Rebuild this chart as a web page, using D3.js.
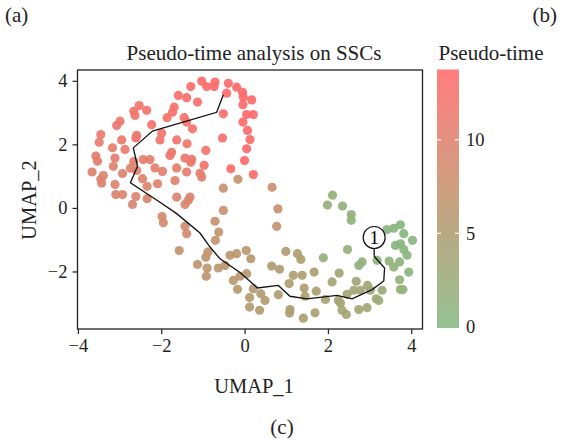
<!DOCTYPE html>
<html>
<head>
<meta charset="utf-8">
<script src="https://cdn.jsdelivr.net/npm/d3@7"></script>
<style>
  body { margin: 0; background: #fff; }
  svg { display: block; font-family: "Liberation Serif", serif; }
</style>
</head>
<body>
<svg id="chart" width="561" height="442"></svg>
<script>
// cells: UMAP coordinates and pseudo-time
const umap1 = [
  -1.03, -1.29, -0.91, -0.71, -0.73, -0.39, -0.19, -0.05, -0.43, -1.59,
  -1.39, -1.13, -0.03, 0.17, -0.04, -2.53, -2.66, -2.35, -1.69, -1.73,
  -2.63, -1.86, -1.45, -0.51, 0.05, 0.21, -2.99, -3.07, -2.23, -1.39,
  -1.25, -0.04, 0.07, -3.45, -3.49, -2.95, -2.59, -2.61, -1.99, -2.03,
  -1.63, -0.53, 0.13, -3.17, -2.87, -1.38, -1.75, -1.79, -0.93, 0.05,
  -3.57, -3.53, -3.11, -2.66, -2.43, -2.27, -1.43, -1.27, -1.29, 0.00,
  -3.15, -2.74, -2.59, -2.15, -1.97, -1.63, -0.97, -0.33, -3.66, -3.39,
  -2.93, -1.39, -1.07, 0.21, -3.45, -3.43, -3.11, -2.45, -2.34, -2.09,
  -1.67, -1.03, -0.16, -3.09, -2.93, -2.61, -2.34, -1.63, -1.31, -0.51,
  -2.69, -1.43, -1.35, -0.51, -1.98, -1.95, -1.43, -1.39, -0.71, -0.62,
  -0.70, -1.57, -0.88, -0.93, -1.13, -0.90, -0.92, -0.63, -0.47, -0.35,
  -0.19, 0.04, 0.15, -0.27, -0.11, 0.05, -0.17, 0.21, 0.12, 0.12,
  0.36, 0.39, 0.49, 0.66, 0.80, 0.77, 0.99, 1.27, 1.35, 0.65,
  0.84, 1.17, 1.38, 1.67, 2.27, 2.68, 2.95, 2.78, 2.62, 3.02,
  2.10, 1.07, 1.43, 0.81, 1.72, 2.46, 2.25, 2.30, 1.09, 1.08,
  1.45, 1.69, 1.41, 2.34, 2.44, 2.74, 2.94, 3.22, 3.30, 2.11,
  1.99, 2.35, 2.56, 2.56, 3.58, 3.74, 3.42, 3.82, 4.03, 3.62,
  3.74, 3.82, 3.90, 2.47, 1.89, 2.82, 2.74, 3.47, 3.72, 3.58,
  3.94, 3.72, 3.74, 3.80, 3.16, 3.18, 1.94
];
const umap2 = [
  3.99, 3.82, 3.82, 3.96, 3.82, 3.92, 3.80, 3.64, 3.61, 3.54,
  3.47, 3.33, 3.48, 3.40, 3.25, 3.22, 3.04, 3.07, 3.17, 3.01,
  2.91, 2.84, 2.84, 2.96, 2.94, 2.94, 2.73, 2.59, 2.62, 2.70,
  2.49, 2.70, 2.44, 2.31, 2.07, 2.14, 2.28, 2.20, 2.35, 2.14,
  2.14, 2.20, 2.15, 1.89, 1.84, 2.02, 1.75, 1.65, 1.81, 1.86,
  1.63, 1.47, 1.57, 1.46, 1.52, 1.52, 1.57, 1.53, 1.44, 1.49,
  1.31, 1.25, 1.18, 1.26, 1.15, 1.26, 1.34, 1.23, 1.13, 1.02,
  1.08, 1.13, 1.09, 1.05, 0.90, 0.78, 0.74, 0.92, 0.68, 0.76,
  0.86, 0.97, 0.90, 0.42, 0.42, 0.36, 0.29, 0.34, 0.34, 0.62,
  0.11, 0.11, 0.24, -0.08, -0.27, -0.47, -0.58, -0.81, -0.42, -0.76,
  -1.02, -1.34, -1.39, -1.55, -1.78, -1.89, -2.15, -1.89, -1.81, -1.49,
  -1.44, -1.34, -1.60, -2.28, -2.15, -2.07, -2.56, -2.54, -2.82, -3.12,
  -3.22, -2.70, -2.91, 0.65, -0.03, -0.58, -1.37, -1.44, -1.62, -1.83,
  -1.93, -2.12, -2.12, -2.02, -2.05, -2.31, -2.44, -2.59, -2.59, -2.59,
  -2.33, -2.38, -2.52, -2.73, -2.62, -2.72, -2.91, -2.99, -3.20, -3.31,
  -2.78, -3.30, -3.47, -3.22, -3.35, -3.20, -3.14, -2.91, -2.59, 0.40,
  0.09, 0.06, -0.21, -0.39, -0.64, -0.53, -0.68, -0.81, -1.02, -1.18,
  -1.13, -1.31, -1.49, -1.31, -1.57, -1.70, -1.81, -1.67, -1.70, -1.86,
  -2.02, -2.26, -2.57, -2.57, -2.86, -1.65, -2.88
];
const pseudotime = [
  13.0, 13.0, 13.2, 13.3, 13.2, 13.4, 13.5, 13.5, 13.3, 12.8,
  12.9, 13.0, 13.6, 13.6, 13.6, 12.2, 12.0, 12.2, 12.6, 12.5,
  12.0, 12.3, 12.6, 13.2, 13.6, 13.6, 11.5, 11.5, 12.0, 12.5,
  12.5, 13.5, 13.5, 11.0, 11.0, 11.3, 11.5, 11.5, 12.0, 11.8,
  12.0, 13.0, 13.5, 10.8, 11.0, 12.0, 11.5, 11.5, 12.5, 13.5,
  10.5, 10.5, 10.5, 10.5, 10.8, 10.8, 11.5, 11.5, 11.5, 13.6,
  10.0, 10.2, 10.0, 10.3, 10.3, 10.8, 12.3, 13.3, 9.8, 9.8,
  10.0, 10.8, 11.0, 13.6, 9.5, 9.5, 9.5, 9.8, 9.5, 9.8,
  10.0, 10.5, 7.0, 9.3, 9.3, 9.3, 9.2, 9.5, 9.5, 7.5,
  9.0, 9.2, 9.3, 7.5, 8.8, 8.8, 8.5, 8.5, 7.5, 7.0,
  7.0, 7.0, 7.0, 7.0, 6.8, 6.5, 6.3, 6.3, 6.3, 6.5,
  6.3, 6.0, 6.0, 6.0, 6.0, 5.8, 5.8, 5.5, 5.5, 5.5,
  5.3, 5.3, 5.3, 7.5, 7.3, 7.2, 5.0, 5.0, 5.0, 5.3,
  5.2, 5.0, 5.0, 4.8, 3.8, 3.5, 3.3, 3.5, 3.6, 3.2,
  4.0, 5.0, 4.8, 5.0, 4.6, 3.8, 4.0, 4.0, 4.8, 4.8,
  4.7, 4.5, 4.6, 4.0, 3.9, 3.6, 3.4, 3.0, 2.8, 1.8,
  1.8, 1.7, 1.6, 1.6, 0.5, 0.4, 0.6, 0.4, 0.3, 0.5,
  0.5, 0.6, 0.7, 1.5, 1.8, 1.3, 1.3, 1.2, 1.2, 1.5,
  1.0, 1.5, 1.5, 1.5, 2.8, 1.0, 4.4
];

// principal graph (trajectory) through the cells
const trajX = [-0.51, -0.67, -2.21, -2.67, -2.57, -2.74, -2.03, -1.63, -1.07, -0.83,
  -0.59, -0.11, 0.31, 0.81, 1.09, 1.50, 2.22, 2.58, 3.06, 3.34, 3.36, 3.11, 3.11];
const trajY = [3.56, 3.01, 2.42, 1.89, 1.31, 0.79, 0.18, -0.18, -0.79, -1.23,
  -1.60, -2.03, -2.52, -2.44, -2.78, -2.86, -2.75, -2.86, -2.57, -2.30, -1.89, -1.52, -1.28];
const rootNode = { x: 3.11, y: -0.93, label: "1" };

const xTicks = [-4, -2, 0, 2, 4];
const yTicks = [-2, 0, 2, 4];
const legendTicks = [0, 5, 10];
const colorStops = [0, 5, 10, 13.7];
const colorRange = ["#84b982", "#ae9e72", "#e0826f", "#ff6a6c"];

const svg = d3.select("#chart");
const box = { left: 77.5, right: 422.5, top: 70, bottom: 329 };

const x = d3.scaleLinear().domain([-4.01, 4.27]).range([box.left, box.right]);
const y = d3.scaleLinear().domain([-3.81, 4.34]).range([box.bottom, box.top]);
const color = d3.scaleLinear().domain(colorStops).range(colorRange).interpolate(d3.interpolateLab);

const cells = umap1.map((u, i) => ({ u1: u, u2: umap2[i], pt: pseudotime[i] }));

// points
svg.append("g")
  .selectAll("circle")
  .data(cells)
  .join("circle")
  .attr("cx", d => x(d.u1))
  .attr("cy", d => y(d.u2))
  .attr("r", 4.6)
  .attr("fill", d => color(d.pt))
  .attr("fill-opacity", 0.93);

// trajectory
const line = d3.line().x(d => x(d[0])).y(d => y(d[1]));
svg.append("path")
  .datum(trajX.map((v, i) => [v, trajY[i]]))
  .attr("d", line)
  .attr("fill", "none")
  .attr("stroke", "#111")
  .attr("stroke-width", 1.3);

const node = svg.append("g")
  .attr("transform", `translate(${x(rootNode.x)},${y(rootNode.y)})`);
node.append("circle").attr("r", 11).attr("fill", "#fff").attr("stroke", "#111").attr("stroke-width", 1.2);
node.append("text").attr("text-anchor", "middle").attr("dy", "0.35em")
  .attr("font-size", 19).text(rootNode.label);

// frame
svg.append("rect")
  .attr("x", box.left).attr("y", box.top)
  .attr("width", box.right - box.left).attr("height", box.bottom - box.top)
  .attr("fill", "none").attr("stroke", "#222").attr("stroke-width", 1.3);

// axes
const xAxis = svg.append("g")
  .attr("transform", `translate(0,${box.bottom})`)
  .call(d3.axisBottom(x).tickValues(xTicks).tickSize(5).tickPadding(5));
const yAxis = svg.append("g")
  .attr("transform", `translate(${box.left},0)`)
  .call(d3.axisLeft(y).tickValues(yTicks).tickSize(5).tickPadding(5));
[xAxis, yAxis].forEach(g => {
  g.select(".domain").remove();
  g.selectAll(".tick line").attr("stroke", "#222").attr("stroke-width", 1.2);
  g.selectAll(".tick text").attr("font-family", "Liberation Serif, serif")
    .attr("font-size", 18.5).attr("fill", "#222");
});

// titles
svg.append("text").attr("x", 254).attr("y", 60).attr("text-anchor", "middle")
  .attr("font-size", 21).attr("fill", "#222").text("Pseudo-time analysis on SSCs");
svg.append("text").attr("x", 254).attr("y", 393).attr("text-anchor", "middle")
  .attr("font-size", 20.5).attr("fill", "#222").text("UMAP_1");
svg.append("text").attr("transform", "translate(36,200) rotate(-90)").attr("text-anchor", "middle")
  .attr("font-size", 20.5).attr("fill", "#222").text("UMAP_2");

// panel letters
svg.append("text").attr("x", 5).attr("y", 22).attr("font-size", 21).attr("fill", "#222").text("(a)");
svg.append("text").attr("x", 557).attr("y", 22).attr("text-anchor", "end").attr("font-size", 21).attr("fill", "#222").text("(b)");
svg.append("text").attr("x", 282).attr("y", 434).attr("text-anchor", "middle").attr("font-size", 21).attr("fill", "#222").text("(c)");

// colour bar
const bar = { x: 437, w: 22, top: 69.5, bottom: 328 };
const cbar = d3.scaleLinear().domain([0, 13.75]).range([327, bar.top]);
const grad = svg.append("defs").append("linearGradient")
  .attr("id", "ptgrad").attr("x1", 0).attr("y1", 1).attr("x2", 0).attr("y2", 0);
d3.range(0, 13.76, 0.5).forEach(v => {
  grad.append("stop").attr("offset", v / 13.75).attr("stop-color", color(Math.min(v, 13.7)));
});
svg.append("rect").attr("x", bar.x).attr("y", bar.top).attr("width", bar.w)
  .attr("height", bar.bottom - bar.top).attr("fill", "url(#ptgrad)").attr("opacity", 0.88);
const legend = svg.append("g");
legend.selectAll("line.l").data(legendTicks.slice(1)).join("line")
  .attr("x1", bar.x).attr("x2", bar.x + 4).attr("y1", d => cbar(d)).attr("y2", d => cbar(d))
  .attr("stroke", "#fff").attr("stroke-width", 1.2);
legend.selectAll("line.r").data(legendTicks.slice(1)).join("line")
  .attr("x1", bar.x + bar.w - 4).attr("x2", bar.x + bar.w).attr("y1", d => cbar(d)).attr("y2", d => cbar(d))
  .attr("stroke", "#fff").attr("stroke-width", 1.2);
legend.selectAll("text").data(legendTicks).join("text")
  .attr("x", 466).attr("y", d => cbar(d)).attr("dy", "0.35em")
  .attr("font-size", 18.5).attr("fill", "#222").text(d => d);
svg.append("text").attr("x", 491).attr("y", 60).attr("text-anchor", "middle")
  .attr("font-size", 21).attr("fill", "#222").text("Pseudo-time");
</script>
</body>
</html>
